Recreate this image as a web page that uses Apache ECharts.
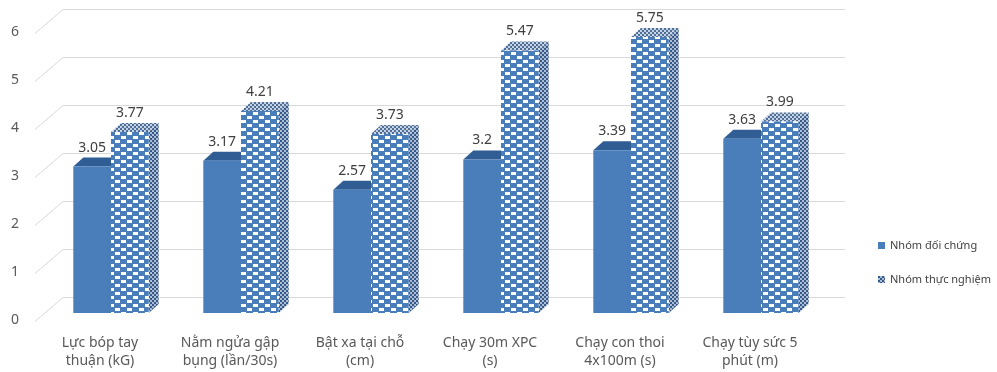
<!DOCTYPE html>
<html>
<head>
<meta charset="utf-8">
<script src="https://cdn.jsdelivr.net/npm/echarts@6/dist/echarts.min.js"></script>
<style>
  html, body { margin: 0; padding: 0; background: #ffffff; }
  #chart { width: 997px; height: 372px; }
</style>
</head>
<body>
<div id="chart"></div>
<script>
// Category labels (two lines each)
const categories = [
  'Lực bóp tay\nthuận (kG)',
  'Nằm ngửa gập\nbụng (lần/30s)',
  'Bật xa tại chỗ\n(cm)',
  'Chạy 30m XPC\n(s)',
  'Chạy con thoi\n4x100m (s)',
  'Chạy tùy sức 5\nphút (m)'
];
const seriesNames = ['Nhóm đối chứng', 'Nhóm thực nghiệm'];
const controlValues = [3.05, 3.17, 2.57, 3.2, 3.39, 3.63];
const experimentValues = [3.77, 4.21, 3.73, 5.47, 5.75, 3.99];
const yTicks = [0, 1, 2, 3, 4, 5, 6];

const FONT = '"Noto Sans", "DejaVu Sans", sans-serif';
const BLUE = '#4a7ebb';
const BLUE_TOP = '#2f5d94';
const DEPTH_X = 10, DEPTH_Y = -9;

// Checkered fill used by the second group
function makeTile(w, h, draw) {
  const c = document.createElement('canvas');
  c.width = w; c.height = h;
  draw(c.getContext('2d'));
  return { image: c, repeat: 'repeat' };
}
const checkFront = makeTile(12, 8, g => {
  g.fillStyle = BLUE; g.fillRect(0, 0, 12, 8);
  g.fillStyle = '#ffffff';
  g.fillRect(1, 0, 5, 3);
  g.fillRect(7, 4, 5, 3);
});
const checkSide = makeTile(4, 4, g => {
  g.fillStyle = '#aebdd1'; g.fillRect(0, 0, 4, 4);
  g.fillStyle = '#34598a';
  g.fillRect(0, 0, 2, 2);
  g.fillRect(2, 2, 2, 2);
});
const checkTop = makeTile(4, 4, g => {
  g.fillStyle = '#c9d3e0'; g.fillRect(0, 0, 4, 4);
  g.fillStyle = '#4d6f9c';
  g.fillRect(0, 0, 2, 2);
  g.fillRect(2, 2, 2, 2);
});

// 3D-looking column: front face, top face, right side face and value label
function columnRenderer(slot, front, top, side) {
  return function (params, api) {
    const i = api.value(0);
    const v = api.value(1);
    const base = api.coord([i, 0]);
    const head = api.coord([i, v]);
    const band = api.size([1, 0])[0];
    const w = band * 0.29;
    const x = slot === 0 ? base[0] - w : base[0];
    const yb = base[1], yt = head[1];
    return {
      type: 'group',
      children: [
        {
          type: 'polygon',
          shape: { points: [[x + w, yt], [x + w + DEPTH_X, yt + DEPTH_Y], [x + w + DEPTH_X, yb + DEPTH_Y], [x + w, yb]] },
          style: { fill: side }
        },
        {
          type: 'polygon',
          shape: { points: [[x, yt], [x + DEPTH_X, yt + DEPTH_Y], [x + w + DEPTH_X, yt + DEPTH_Y], [x + w, yt]] },
          style: { fill: top }
        },
        {
          type: 'rect',
          shape: { x: x, y: yt, width: w, height: yb - yt },
          style: { fill: front }
        },
        {
          type: 'text',
          x: x + w / 2,
          y: yt + DEPTH_Y - 3,
          style: {
            text: String(v),
            fill: '#404040',
            font: '14px ' + FONT,
            align: 'center',
            verticalAlign: 'bottom'
          }
        }
      ]
    };
  };
}

// Back wall gridlines with the slanted floor edge at the left
function wallRenderer(params, api) {
  const v = api.value(1);
  const p = api.coord([0, v]);
  const band = api.size([1, 0])[0];
  const left = p[0] - band / 2;
  const right = left + band * categories.length;
  const y = Math.round(p[1]);
  return {
    type: 'polyline',
    shape: { points: [[left - 11, y + 8.5], [left + 17, y - 15.5], [right + 19, y - 15.5]] },
    style: { stroke: '#d9d9d9', lineWidth: 1, fill: null }
  };
}

const chart = echarts.init(document.getElementById('chart'), null, { renderer: 'canvas' });
chart.setOption({
  animation: false,
  backgroundColor: '#ffffff',
  grid: { left: 46, top: 25, width: 780, height: 288 },
  xAxis: {
    type: 'category',
    data: categories,
    axisLine: { show: false },
    axisTick: { show: false },
    axisLabel: {
      interval: 0,
      margin: 21,
      color: '#595959',
      fontFamily: FONT,
      fontSize: 14,
      lineHeight: 18,
      padding: [0, 22, 0, 0]
    }
  },
  yAxis: {
    type: 'value',
    min: 0,
    max: 6,
    interval: 1,
    axisLine: { show: false },
    axisTick: { show: false },
    splitLine: { show: false },
    axisLabel: {
      margin: 27,
      color: '#595959',
      fontFamily: FONT,
      fontSize: 14,
      verticalAlign: 'top'
    }
  },
  legend: {
    orient: 'vertical',
    left: 873,
    top: 235,
    itemWidth: 7,
    itemHeight: 7,
    itemGap: 23,
    textStyle: { color: '#404040', fontFamily: FONT, fontSize: 11 },
    data: [
      { name: seriesNames[0], icon: 'rect', itemStyle: { color: BLUE } },
      { name: seriesNames[1], icon: 'rect', itemStyle: { color: checkSide } }
    ]
  },
  series: [
    {
      name: 'walls',
      type: 'custom',
      silent: true,
      renderItem: wallRenderer,
      data: yTicks.map(t => [0, t]),
      z: 1
    },
    {
      name: seriesNames[0],
      type: 'custom',
      renderItem: columnRenderer(0, BLUE, BLUE_TOP, BLUE_TOP),
      itemStyle: { color: BLUE },
      data: controlValues.map((v, i) => [i, v]),
      z: 2
    },
    {
      name: seriesNames[1],
      type: 'custom',
      renderItem: columnRenderer(1, checkFront, checkTop, checkSide),
      itemStyle: { color: BLUE },
      data: experimentValues.map((v, i) => [i, v]),
      z: 3
    }
  ]
});
</script>
</body>
</html>
